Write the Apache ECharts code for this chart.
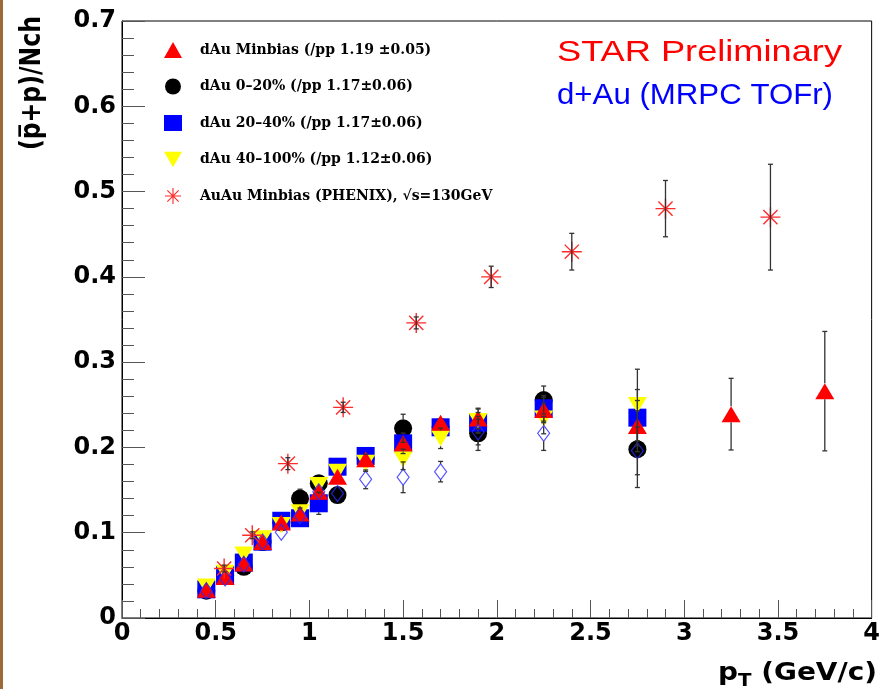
<!DOCTYPE html>
<html>
<head>
<meta charset="utf-8">
<script src="https://cdn.jsdelivr.net/npm/echarts@6/dist/echarts.min.js"></script>
<style>
  html, body { margin: 0; padding: 0; background: #fff; }
  #chart { width: 883px; height: 689px; }
</style>
</head>
<body>
<div id="chart"></div>
<script>
// pT bin centres (GeV/c) shared by the d+Au measurements
const ptBins = [0.45, 0.55, 0.65, 0.75, 0.85, 0.95, 1.05, 1.15, 1.3, 1.5, 1.7, 1.9, 2.25, 2.75, 3.25, 3.75];

// (pbar+p)/Nch ratios and errors
const minbiasRatio = [0.033, 0.048, 0.064, 0.089, 0.112, 0.1225, 0.148, 0.1655, 0.186, 0.205, 0.229, 0.234, 0.244, 0.225, 0.239, 0.266];
const minbiasErr   = [0.002, 0.002, 0.002, 0.003, 0.003, 0.004, 0.005, 0.005, 0.006, 0.008, 0.006, 0.012, 0.015, 0.030, 0.042, 0.070];

const central020Ratio = [0.032, 0.050, 0.060, 0.089, 0.112, 0.140, 0.158, 0.1442, 0.187, 0.2224, 0.224, 0.2165, 0.2556, 0.198];
const central020Err   = [0.002, 0.002, 0.002, 0.003, 0.003, 0.011, 0.0105, 0.008, 0.010, 0.0165, 0.010, 0.020, 0.0164, 0.045];

const mid2040Ratio = [0.0336, 0.0504, 0.065, 0.0895, 0.114, 0.117, 0.1345, 0.1774, 0.190, 0.2048, 0.2236, 0.229, 0.2459, 0.2349];
const mid2040Err   = [0.002, 0.002, 0.003, 0.003, 0.004, 0.005, 0.013, 0.010, 0.010, 0.012, 0.008, 0.012, 0.015, 0.033];

const periph40100Ratio = [0.037, 0.053, 0.0746, 0.0934, 0.109, 0.124, 0.156, 0.1716, 0.182, 0.186, 0.2107, 0.231, 0.234, 0.2497];
const periph40100Err   = [0.002, 0.002, 0.003, 0.003, 0.004, 0.005, 0.006, 0.008, 0.010, 0.012, 0.012, 0.014, 0.018, 0.042];

const ppRatio = [0.032, 0.047, 0.063, 0.089, 0.1005, 0.120, 0.148, 0.146, 0.1626, 0.165, 0.1716, 0.218, 0.2165, 0.196];
const ppErr   = [0.002, 0.002, 0.003, 0.003, 0.004, 0.005, 0.006, 0.008, 0.011, 0.018, 0.012, 0.015, 0.020, 0.028];

// PHENIX Au+Au minimum bias at sqrt(s_NN) = 130 GeV
const phenixPt    = [0.545, 0.695, 0.885, 1.18, 1.57, 1.97, 2.40, 2.90, 3.46];
const phenixRatio = [0.058, 0.097, 0.181, 0.247, 0.346, 0.400, 0.4295, 0.480, 0.470];
const phenixErr   = [0.004, 0.004, 0.007, 0.006, 0.007, 0.0125, 0.0215, 0.033, 0.062];

// axis ticks
const xTicks = { min: 0, max: 4, step: 0.5 };
const yTicks = { min: 0, max: 0.7, step: 0.1 };

const legendNames = [
  'dAu Minbias (/pp 1.19 \u00b10.05)',
  'dAu 0\u201320% (/pp 1.17\u00b10.06)',
  'dAu 20\u201340% (/pp 1.17\u00b10.06)',
  'dAu 40\u2013100% (/pp 1.12\u00b10.06)',
  'AuAu Minbias (PHENIX), \u221as=130GeV'
];

// ---- marker shapes ----
function asteriskPath() {
  const L = 10, w = 0.7;
  let d = '';
  for (const a of [0, 45, 90, 135]) {
    const r = a * Math.PI / 180, c = Math.cos(r), s = Math.sin(r);
    const pts = [[-L, -w], [L, -w], [L, w], [-L, w]].map(([x, y]) => [x * c - y * s, x * s + y * c]);
    d += 'M' + pts.map(p => p[0].toFixed(3) + ',' + p[1].toFixed(3)).join('L') + 'Z';
  }
  return 'path://' + d;
}
const STAR_SYMBOL = asteriskPath();
const DOWN_TRIANGLE = 'path://M0,0L20,0L10,17Z';

function pairs(xs, ys) { return ys.map((y, i) => [xs[i], y]); }
function triples(xs, ys, es) { return ys.map((y, i) => [xs[i], y, es[i]]); }

function measure(text, font) {
  const ctx = document.createElement('canvas').getContext('2d');
  ctx.font = font;
  return ctx.measureText(text).width;
}

// vertical error bars with caps; gap leaves room for the marker
function errorBars(name, xs, ys, es, gap) {
  return {
    type: 'custom',
    name: name + ' err',
    z: 4,
    silent: true,
    data: triples(xs, ys, es),
    encode: { x: 0, y: 1 },
    renderItem: function (params, api) {
      const x = api.value(0), y = api.value(1), e = api.value(2);
      const c = api.coord([x, y]);
      const top = api.coord([x, y + e]);
      const bot = api.coord([x, y - e]);
      const cap = 2.5;
      const st = { stroke: '#333', lineWidth: 1.3 };
      const kids = [];
      if (c[1] - top[1] > gap) {
        kids.push({ type: 'line', shape: { x1: c[0], y1: c[1] - gap, x2: top[0], y2: top[1] }, style: st });
        kids.push({ type: 'line', shape: { x1: top[0] - cap, y1: top[1], x2: top[0] + cap, y2: top[1] }, style: st });
      }
      if (bot[1] - c[1] > gap) {
        kids.push({ type: 'line', shape: { x1: c[0], y1: c[1] + gap, x2: bot[0], y2: bot[1] }, style: st });
        kids.push({ type: 'line', shape: { x1: bot[0] - cap, y1: bot[1], x2: bot[0] + cap, y2: bot[1] }, style: st });
      }
      return { type: 'group', children: kids };
    }
  };
}

function scatter(name, xs, ys, symbol, size, color, extra) {
  return Object.assign({
    type: 'scatter',
    name: name,
    z: 3,
    data: pairs(xs, ys),
    symbol: symbol,
    symbolSize: size,
    itemStyle: { color: color, opacity: 1 },
    emphasis: { disabled: true },
    silent: true
  }, extra || {});
}

const chart = echarts.init(document.getElementById('chart'), null, { renderer: 'canvas' });

const tickFont = '"DejaVu Sans", sans-serif';

// text helpers for the annotations and axis titles
const starFont = '30px "Liberation Sans", Arial, sans-serif';
const starText = 'STAR Preliminary';
const dauText = 'd+Au (MRPC TOFr)';
const titleFont = 'bold 24px "DejaVu Sans", sans-serif';
const subFont = 'bold 17px "DejaVu Sans", sans-serif';
const wP = measure('p', titleFont), wT = measure('T', subFont), wRest = measure(' (GeV/c)', titleFont);
const xTitleScale = 159 / (wP + wT + wRest);
const yTitleFont = 'bold 28px "DejaVu Sans", sans-serif';
const yTitleText = '(p\u0305+p)/Nch';
const yTitleScale = 134 / measure(yTitleText, yTitleFont);

const option = {
  animation: false,
  backgroundColor: '#ffffff',
  grid: { left: 122, right: 5, top: 21, bottom: 71, show: true, borderColor: '#000', borderWidth: 1, backgroundColor: 'transparent' },
  xAxis: {
    type: 'value', min: xTicks.min, max: xTicks.max, interval: xTicks.step,
    axisLine: { show: true, onZero: false, lineStyle: { color: '#000', width: 1 } },
    axisTick: { show: true, inside: true, length: 18, lineStyle: { color: '#555', width: 1 } },
    minorTick: { show: true, splitNumber: 5, length: 9, lineStyle: { color: '#555', width: 1 } },
    splitLine: { show: false },
    axisLabel: { color: '#000', fontFamily: tickFont, fontWeight: 'bold', fontSize: 24, margin: 4 }
  },
  yAxis: {
    type: 'value', min: yTicks.min, max: yTicks.max, interval: yTicks.step,
    axisLine: { show: true, onZero: false, lineStyle: { color: '#000', width: 1 } },
    axisTick: { show: true, inside: true, length: 23, lineStyle: { color: '#555', width: 1 } },
    minorTick: { show: true, splitNumber: 5, length: 12, lineStyle: { color: '#555', width: 1 } },
    splitLine: { show: false },
    axisLabel: { color: '#000', fontFamily: tickFont, fontWeight: 'bold', fontSize: 24, margin: 6 }
  },
  legend: {
    orient: 'vertical', left: 159, top: 37,
    itemWidth: 18, itemHeight: 16, itemGap: 20.5,
    selectedMode: false,
    textStyle: { fontFamily: '"DejaVu Serif", serif', fontWeight: 'bold', fontSize: 14, color: '#000', lineHeight: 16, padding: [0, 0, 0, 13] },
    data: [
      { name: legendNames[0], icon: 'triangle' },
      { name: legendNames[1], icon: 'circle' },
      { name: legendNames[2], icon: 'rect' },
      { name: legendNames[3], icon: DOWN_TRIANGLE },
      { name: legendNames[4], icon: STAR_SYMBOL }
    ]
  },
  series: [
    scatter(legendNames[1], ptBins, central020Ratio, 'circle', 18, '#000000'),
    scatter(legendNames[2], ptBins, mid2040Ratio, 'rect', 18, '#0000ff'),
    scatter(legendNames[3], ptBins, periph40100Ratio, DOWN_TRIANGLE, [19, 16], '#ffff00'),
    scatter(legendNames[0], ptBins, minbiasRatio, 'triangle', [19, 16], '#ff0000'),
    scatter('pp', ptBins, ppRatio, 'diamond', [12, 16], 'rgba(0,0,0,0)', {
      itemStyle: { color: 'rgba(255,255,255,0)', borderColor: '#2b2bff', borderWidth: 1.2 }
    }),
    scatter(legendNames[4], phenixPt, phenixRatio, STAR_SYMBOL, 20, '#ff2a2a'),
    errorBars('c020', ptBins, central020Ratio, central020Err, 9),
    errorBars('m2040', ptBins, mid2040Ratio, mid2040Err, 9),
    errorBars('p40100', ptBins, periph40100Ratio, periph40100Err, 8),
    errorBars('mb', ptBins, minbiasRatio, minbiasErr, 8),
    errorBars('pp', ptBins, ppRatio, ppErr, 8),
    errorBars('phenix', phenixPt, phenixRatio, phenixErr, 0)
  ],
  graphic: [
    { type: 'rect', left: 0, top: 0, shape: { width: 3, height: 689 }, style: { fill: '#9b6a36' }, silent: true },
    {
      type: 'text', x: 557, y: 53, scaleX: 285 / measure(starText, starFont), silent: true,
      style: { text: starText, font: starFont, fill: '#ff0000', align: 'left', verticalAlign: 'middle', textAlign: 'left', textVerticalAlign: 'middle' }
    },
    {
      type: 'text', x: 557, y: 96, scaleX: 276 / measure(dauText, starFont), silent: true,
      style: { text: dauText, font: starFont, fill: '#0000ff', align: 'left', verticalAlign: 'middle', textAlign: 'left', textVerticalAlign: 'middle' }
    },
    {
      type: 'group', x: 718, y: 674, scaleX: xTitleScale, silent: true,
      children: [
        { type: 'text', x: 0, y: 0, style: { text: 'p', font: titleFont, fill: '#000', align: 'left', verticalAlign: 'middle', textAlign: 'left', textVerticalAlign: 'middle' } },
        { type: 'text', x: wP, y: 8, style: { text: 'T', font: subFont, fill: '#000', align: 'left', verticalAlign: 'middle', textAlign: 'left', textVerticalAlign: 'middle' } },
        { type: 'text', x: wP + wT, y: 0, style: { text: ' (GeV/c)', font: titleFont, fill: '#000', align: 'left', verticalAlign: 'middle', textAlign: 'left', textVerticalAlign: 'middle' } }
      ]
    },
    {
      type: 'text', x: 33, y: 16, rotation: Math.PI / 2, scaleX: yTitleScale, silent: true,
      style: { text: yTitleText, font: yTitleFont, fill: '#000', align: 'right', verticalAlign: 'middle', textAlign: 'right', textVerticalAlign: 'middle' }
    }
  ]
};

chart.setOption(option);
</script>
</body>
</html>
